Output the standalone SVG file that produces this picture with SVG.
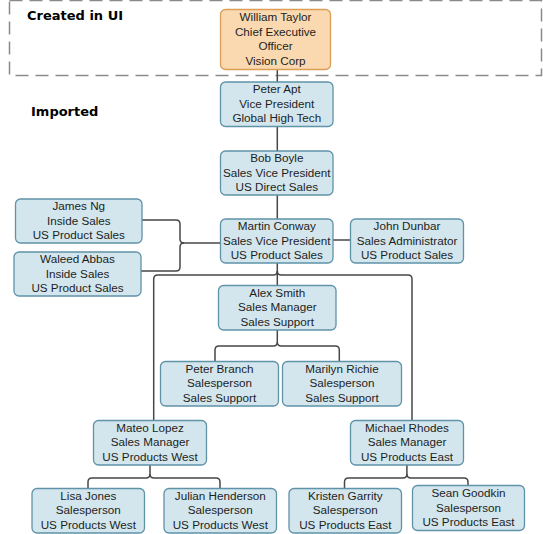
<svg xmlns="http://www.w3.org/2000/svg" width="543" height="534" viewBox="0 0 543 534">
<style>
.n rect{fill:#d3e6ed;stroke:#5f93a8;stroke-width:1.3}
.o rect{fill:#fad9b0;stroke:#dc9d55;stroke-width:1.3}
text{font-family:"Liberation Sans",Arial,sans-serif;font-size:11.7px;fill:#1e1e1e;text-anchor:middle}
.lbl{font-family:"DejaVu Sans",sans-serif;font-weight:bold;font-size:13px;text-anchor:start;fill:#000}
#connectors path{fill:none;stroke:#474747;stroke-width:1.5}
</style>
<rect x="9.5" y="0.5" width="532" height="75" fill="none" stroke="#8a8a8a" stroke-width="1.5" stroke-dasharray="13,7"/>
<text class="lbl" x="27" y="20">Created in UI</text>
<text class="lbl" x="31" y="116">Imported</text>
<g id="connectors">
<path d="M277.3,69.5V82"/>
<path d="M277.3,126.5V151"/>
<path d="M277.3,195V219"/>
<path d="M333,240H350.5"/>
<path d="M142,220H176Q180,220 180,224V239Q180,243 184,243H220.5"/>
<path d="M141,271H176Q180,271 180,267V247Q180,243 184,243"/>
<path d="M277.3,263V285.5"/>
<path d="M277.3,271Q277.3,275 273.3,275H157.7Q153.7,275 153.7,279V420.5"/>
<path d="M277.3,271Q277.3,275 281.3,275H408Q412,275 412,279V420.5"/>
<path d="M277.3,330V342Q277.3,346 273.3,346H219Q215,346 215,350V361.5"/>
<path d="M277.3,342Q277.3,346 281.3,346H335.3Q339.3,346 339.3,350V361.5"/>
<path d="M150,465V474Q150,478 146,478H92Q88,478 88,482V488.5"/>
<path d="M150,474Q150,478 154,478H216Q220,478 220,482V488.5"/>
<path d="M406.9,465V474Q406.9,478 402.9,478H348.5Q344.5,478 344.5,482V488.5"/>
<path d="M406.9,474Q406.9,478 410.9,478H464Q468,478 468,482V485.5"/>
</g>
<g id="william-taylor" class="o"><rect x="220.5" y="9.5" width="110" height="60" rx="5"/>
<text x="275.5" y="21">William Taylor</text><text x="275.5" y="35.5">Chief Executive</text><text x="275.5" y="50">Officer</text><text x="275.5" y="64.5">Vision Corp</text></g>
<g id="peter-apt" class="n"><rect x="220.5" y="82" width="112.5" height="44.5" rx="5"/>
<text x="276.8" y="93">Peter Apt</text><text x="276.8" y="107.5">Vice President</text><text x="276.8" y="122">Global High Tech</text></g>
<g id="bob-boyle" class="n"><rect x="220.5" y="151" width="112.5" height="44" rx="5"/>
<text x="276.8" y="162">Bob Boyle</text><text x="276.8" y="176.5">Sales Vice President</text><text x="276.8" y="191">US Direct Sales</text></g>
<g id="martin-conway" class="n"><rect x="220.5" y="219" width="112.5" height="44" rx="5"/>
<text x="276.8" y="230">Martin Conway</text><text x="276.8" y="244.5">Sales Vice President</text><text x="276.8" y="259">US Product Sales</text></g>
<g id="james-ng" class="n"><rect x="15.5" y="199" width="126.5" height="44" rx="5"/>
<text x="78.8" y="210">James Ng</text><text x="78.8" y="224.5">Inside Sales</text><text x="78.8" y="239">US Product Sales</text></g>
<g id="waleed-abbas" class="n"><rect x="14" y="252" width="127" height="44" rx="5"/>
<text x="77.5" y="263">Waleed Abbas</text><text x="77.5" y="277.5">Inside Sales</text><text x="77.5" y="292">US Product Sales</text></g>
<g id="john-dunbar" class="n"><rect x="350.5" y="219" width="113" height="44" rx="5"/>
<text x="407" y="230">John Dunbar</text><text x="407" y="244.5">Sales Administrator</text><text x="407" y="259">US Product Sales</text></g>
<g id="alex-smith" class="n"><rect x="218.5" y="285.5" width="117.5" height="44.5" rx="5"/>
<text x="277.3" y="296.5">Alex Smith</text><text x="277.3" y="311">Sales Manager</text><text x="277.3" y="325.5">Sales Support</text></g>
<g id="peter-branch" class="n"><rect x="160.5" y="361.5" width="118" height="44.5" rx="5"/>
<text x="219.5" y="372.5">Peter Branch</text><text x="219.5" y="387">Salesperson</text><text x="219.5" y="401.5">Sales Support</text></g>
<g id="marilyn-richie" class="n"><rect x="282.5" y="361.5" width="119" height="44.5" rx="5"/>
<text x="342" y="372.5">Marilyn Richie</text><text x="342" y="387">Salesperson</text><text x="342" y="401.5">Sales Support</text></g>
<g id="mateo-lopez" class="n"><rect x="93.5" y="420.5" width="113" height="44.5" rx="5"/>
<text x="150" y="431.5">Mateo Lopez</text><text x="150" y="446">Sales Manager</text><text x="150" y="460.5">US Products West</text></g>
<g id="michael-rhodes" class="n"><rect x="350.5" y="420.5" width="113" height="44.5" rx="5"/>
<text x="407" y="431.5">Michael Rhodes</text><text x="407" y="446">Sales Manager</text><text x="407" y="460.5">US Products East</text></g>
<g id="lisa-jones" class="n"><rect x="32" y="488.5" width="112.5" height="44.5" rx="5"/>
<text x="88.3" y="499.5">Lisa Jones</text><text x="88.3" y="514">Salesperson</text><text x="88.3" y="528.5">US Products West</text></g>
<g id="julian-henderson" class="n"><rect x="164" y="488.5" width="112.5" height="44.5" rx="5"/>
<text x="220.3" y="499.5">Julian Henderson</text><text x="220.3" y="514">Salesperson</text><text x="220.3" y="528.5">US Products West</text></g>
<g id="kristen-garrity" class="n"><rect x="289" y="488.5" width="112.5" height="44.5" rx="5"/>
<text x="345.3" y="499.5">Kristen Garrity</text><text x="345.3" y="514">Salesperson</text><text x="345.3" y="528.5">US Products East</text></g>
<g id="sean-goodkin" class="n"><rect x="412.5" y="485.5" width="112" height="45" rx="5"/>
<text x="468.5" y="497">Sean Goodkin</text><text x="468.5" y="511.5">Salesperson</text><text x="468.5" y="526">US Products East</text></g>
</svg>
